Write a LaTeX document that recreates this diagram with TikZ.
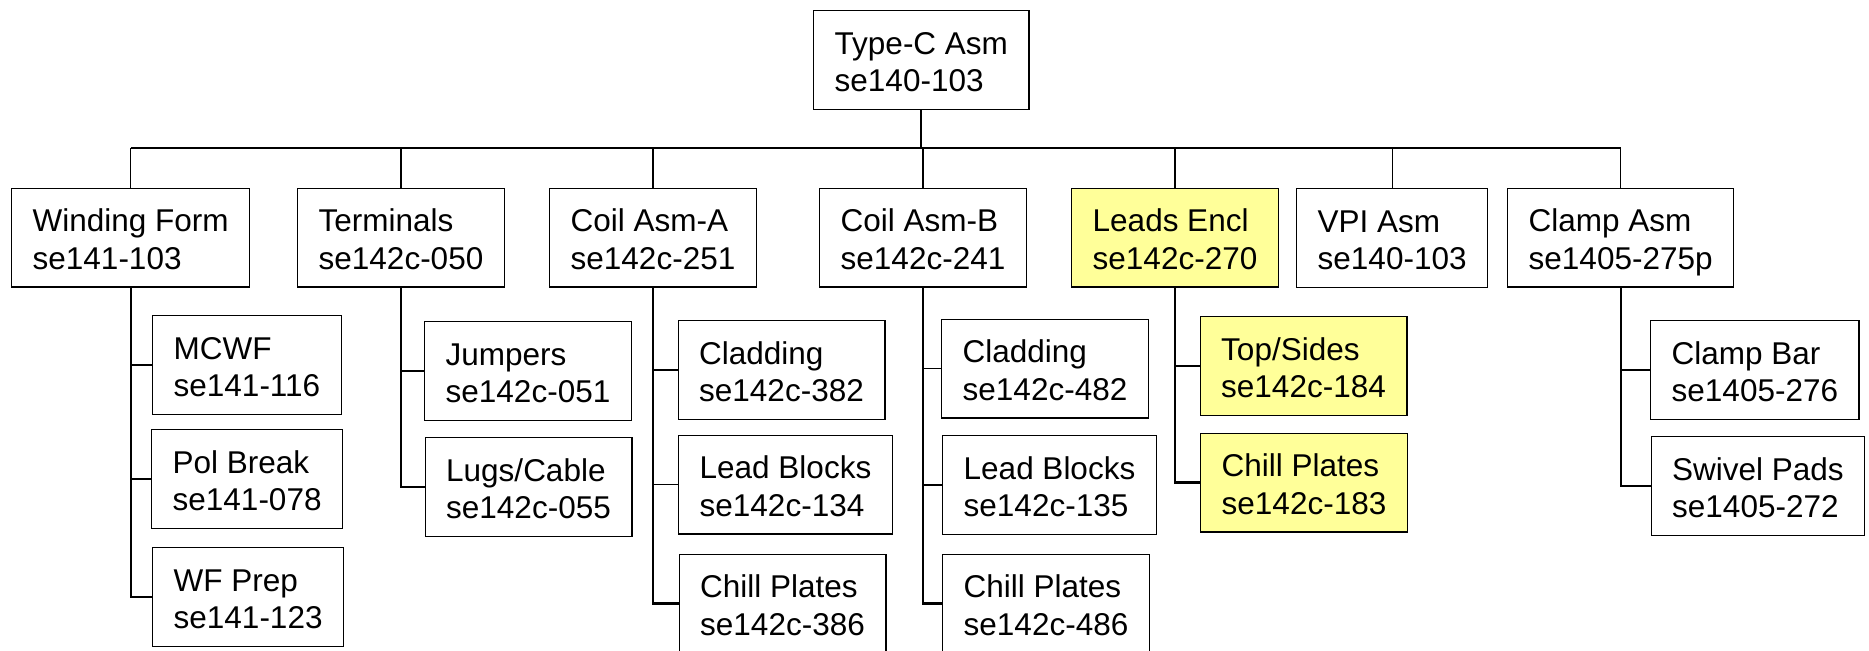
\documentclass[tikz,border=0pt]{standalone}
\usepackage{fontspec}
\setmainfont{Liberation Sans}
\usepackage{tikz}

\definecolor{enclfill}{HTML}{FFFF99}
\newcommand{\asmlabel}[2]{\rule{0pt}{21.7pt}#1\\#2\rule[-8.85pt]{0pt}{8.85pt}}

\tikzset{
    asmbox/.style={draw, line width=0.7pt, fill=white, anchor=north west, align=left,
        inner xsep=10.5pt, inner ysep=0pt, font=\fontsize{15.75pt}{18.8pt}\selectfont},
    hilite/.style={asmbox, fill=enclfill},
    trunk/.style={line width=1.1pt},
    twig/.style={line width=0.65pt}
}

\begin{document}
\begin{tikzpicture}[x=0.5pt, y=-0.5pt]
    \useasboundingbox (0,0) rectangle (1869,650);

    % Top assembly
    \node[asmbox] (root) at (813,10) {\asmlabel{Type-C Asm}{se140-103}};
    \coordinate (bus) at (0,148);

    % Sub-assemblies
    \node[asmbox] (wf)    at (11,187.5)   {\asmlabel{Winding Form}{se141-103}};
    \node[asmbox] (term)  at (297,187.5)  {\asmlabel{Terminals}{se142c-050}};
    \node[asmbox] (coila) at (549,187.5)  {\asmlabel{Coil Asm-A}{se142c-251}};
    \node[asmbox] (coilb) at (819,187.5)  {\asmlabel{Coil Asm-B}{se142c-241}};
    \node[hilite] (leads) at (1071,187.5) {\asmlabel{Leads Encl}{se142c-270}};
    \node[asmbox] (vpi)   at (1296,188)   {\asmlabel{VPI Asm}{se140-103}};
    \node[asmbox] (clamp) at (1507,187.5) {\asmlabel{Clamp Asm}{se1405-275p}};

    % Parts
    \node[asmbox] (mcwf)     at (152,315)     {\asmlabel{MCWF}{se141-116}};
    \node[asmbox] (polbrk)   at (151,429)     {\asmlabel{Pol Break}{se141-078}};
    \node[asmbox] (wfprep)   at (152,547)     {\asmlabel{WF Prep}{se141-123}};
    \node[asmbox] (jumpers)  at (424,321)     {\asmlabel{Jumpers}{se142c-051}};
    \node[asmbox] (lugs)     at (424.5,437)   {\asmlabel{Lugs/Cable}{se142c-055}};
    \node[asmbox] (clada)    at (677.5,320)   {\asmlabel{Cladding}{se142c-382}};
    \node[asmbox] (leada)    at (678,434.5)   {\asmlabel{Lead Blocks}{se142c-134}};
    \node[asmbox] (chilla)   at (678.5,553.5) {\asmlabel{Chill Plates}{se142c-386}};
    \node[asmbox] (cladb)    at (941,318.5)   {\asmlabel{Cladding}{se142c-482}};
    \node[asmbox] (leadb)    at (942,435)     {\asmlabel{Lead Blocks}{se142c-135}};
    \node[asmbox] (chillb)   at (942,553.5)   {\asmlabel{Chill Plates}{se142c-486}};
    \node[hilite] (topsides) at (1199.5,316)  {\asmlabel{Top/Sides}{se142c-184}};
    \node[hilite] (chilll)   at (1200,432.5)  {\asmlabel{Chill Plates}{se142c-183}};
    \node[asmbox] (clampbar) at (1650,320)    {\asmlabel{Clamp Bar}{se1405-276}};
    \node[asmbox] (swivel)   at (1650.5,436)  {\asmlabel{Swivel Pads}{se1405-272}};

    % Bus from the top assembly
    \draw[trunk] (root.south) -- (root.south |- bus);
    \draw[trunk] (wf.north |- bus) -- (clamp.north |- bus);
    \foreach \n in {wf, term, coila, coilb, leads, vpi, clamp} {
        \draw[twig] (\n.north) -- (\n.north |- bus);
    }

    % Spines down to the last part
    \foreach \p/\last in {wf/wfprep, term/lugs, coila/chilla, coilb/chillb, leads/chilll, clamp/swivel} {
        \draw[trunk] (\p.south) |- (\last.west);
    }
    \foreach \p/\c in {wf/mcwf, wf/polbrk, term/jumpers, coila/clada, coila/leada,
                       coilb/cladb, coilb/leadb, leads/topsides, clamp/clampbar} {
        \draw[twig] (\p.south |- \c.west) -- (\c.west);
    }
\end{tikzpicture}
\end{document}
